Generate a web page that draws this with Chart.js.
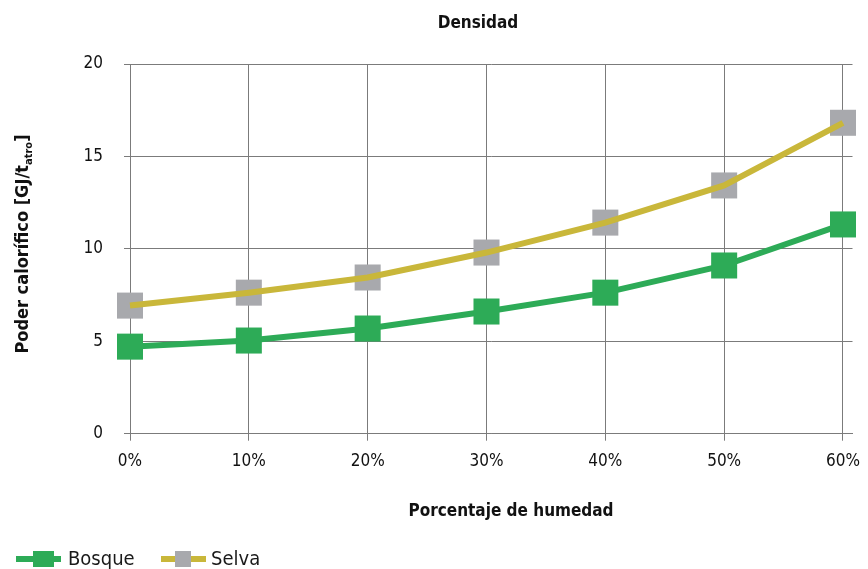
<!DOCTYPE html>
<html>
<head>
<meta charset="utf-8">
<script src="https://cdn.jsdelivr.net/npm/chart.js@4/dist/chart.umd.min.js"></script>
<style>
  html, body { margin: 0; padding: 0; width: 868px; height: 569px; overflow: hidden; background: #fff; }
  #wrap { position: relative; width: 868px; height: 569px; }
  #c { position: absolute; left: 0; top: 0; }
  .lg-text { position: absolute; font-family: 'Liberation Sans Narrow', 'DejaVu Sans Condensed', sans-serif;
             font-size: 20px; line-height: 20px; color: #1a1a1a; white-space: nowrap; }
  .lg-line { position: absolute; height: 6px; }
  .lg-box { position: absolute; }
</style>
</head>
<body>
<div id="wrap">
  <canvas id="c" width="868" height="569"></canvas>
  <div id="legend"></div>
</div>
<script>
// Moisture content categories and calorific values (GJ per dry tonne)
const xLabels = ['0%', '10%', '20%', '30%', '40%', '50%', '60%'];
const bosque  = [4.71, 5.04, 5.69, 6.61, 7.63, 9.10, 11.32];
const selva   = [6.93, 7.63, 8.45, 9.80, 11.42, 13.43, 16.82];
const yTicks  = [0, 5, 10, 15, 20];

const chartTitle = 'Densidad';
const xTitle = 'Porcentaje de humedad';
const yTitleMain = 'Poder calorífico [GJ/t';
const yTitleSub = 'atro';
const yTitleEnd = ']';

const seriesNames = ['Bosque', 'Selva'];
const GREEN = '#2dab57';
const OLIVE = '#c9b73a';
const GREY  = '#a8a9ad';
const GRID  = '#7b7b7b';
const FONT  = "'Liberation Sans Narrow', 'DejaVu Sans Condensed', sans-serif";

const toPoints = arr => arr.map((v, i) => ({ x: i, y: v }));

// Titles drawn on the canvas at fixed positions (axis title carries a subscript)
const titlesPlugin = {
  id: 'titles',
  afterDraw(chart) {
    const ctx = chart.ctx;
    ctx.save();
    ctx.fillStyle = '#111';
    ctx.textAlign = 'center';
    ctx.textBaseline = 'middle';
    ctx.font = 'bold 17px ' + FONT;
    ctx.fillText(chartTitle, 478, 24);
    ctx.fillText(xTitle, 511, 512);

    // rotated y-axis title with subscript
    ctx.translate(23, 244);
    ctx.rotate(-Math.PI / 2);
    const mainFont = 'bold 18px ' + FONT;
    const subFont = 'bold 11px ' + FONT;
    ctx.font = mainFont; const w1 = ctx.measureText(yTitleMain).width;
    ctx.font = subFont;  const w2 = ctx.measureText(yTitleSub).width;
    ctx.font = mainFont; const w3 = ctx.measureText(yTitleEnd).width;
    let x = -(w1 + w2 + w3) / 2;
    ctx.textAlign = 'left';
    ctx.font = mainFont; ctx.fillText(yTitleMain, x, 0); x += w1;
    ctx.font = subFont;  ctx.fillText(yTitleSub, x, 6); x += w2;
    ctx.font = mainFont; ctx.fillText(yTitleEnd, x, 0);
    ctx.restore();
  }
};

new Chart(document.getElementById('c'), {
  type: 'line',
  data: {
    datasets: [
      {
        label: seriesNames[0],
        data: toPoints(bosque),
        borderColor: GREEN, backgroundColor: GREEN, borderWidth: 6,
        pointStyle: 'rect', pointRadius: 18.4, pointBorderWidth: 0,
        pointBackgroundColor: GREEN, tension: 0, clip: false, order: 0
      },
      {
        // Selva line sits above its grey markers
        label: seriesNames[1],
        data: toPoints(selva),
        borderColor: OLIVE, borderWidth: 6, pointRadius: 0,
        tension: 0, clip: false, order: 1
      },
      {
        label: seriesNames[1] + ' marcadores',
        data: toPoints(selva),
        showLine: false,
        pointStyle: 'rect', pointRadius: 18.4, pointBorderWidth: 0,
        pointBackgroundColor: GREY, backgroundColor: GREY,
        clip: false, order: 2
      }
    ]
  },
  options: {
    responsive: false,
    animation: false,
    events: [],
    layout: { autoPadding: false, padding: { top: 64, right: 15.5, left: 0, bottom: 0 } },
    plugins: { legend: { display: false }, title: { display: false }, tooltip: { enabled: false } },
    scales: {
      x: {
        type: 'linear', min: 0, max: 6.08,
        afterFit(s) { s.height = 569 - 433.7; s.paddingLeft = 0; s.paddingRight = 0; },
        ticks: {
          stepSize: 1, includeBounds: false, autoSkip: false, maxRotation: 0,
          padding: 11, color: '#111', font: { family: FONT, size: 17 },
          callback: v => xLabels[v]
        },
        grid: { color: GRID, lineWidth: 1, tickLength: 7 },
        border: { color: GRID }
      },
      y: {
        min: 0, max: 20,
        afterFit(s) { s.width = 130; s.paddingTop = 0; s.paddingBottom = 0; },
        afterBuildTicks(s) { s.ticks = yTicks.map(v => ({ value: v })); },
        ticks: { padding: 21, color: '#111', font: { family: FONT, size: 17 } },
        grid: { color: GRID, lineWidth: 1, tickLength: 6 },
        border: { color: GRID }
      }
    }
  },
  plugins: [titlesPlugin]
});

// Legend: line-through-marker keys
const legendItems = [
  { name: seriesNames[0], line: GREEN, box: GREEN, x: 16, boxLeft: 33, boxW: 21, textLeft: 68 },
  { name: seriesNames[1], line: OLIVE, box: GREY, x: 161, boxLeft: 175, boxW: 16, textLeft: 211 }
];
const legend = document.getElementById('legend');
legendItems.forEach(it => {
  const line = document.createElement('div');
  line.className = 'lg-line';
  line.style.cssText = `left:${it.x}px;top:556px;width:45px;background:${it.line};`;
  const box = document.createElement('div');
  box.className = 'lg-box';
  box.style.cssText = `left:${it.boxLeft}px;top:551px;width:${it.boxW}px;height:16px;background:${it.box};`;
  const txt = document.createElement('div');
  txt.className = 'lg-text';
  txt.style.cssText = `left:${it.textLeft}px;top:548px;`;
  txt.textContent = it.name;
  legend.append(line, box, txt);
});
</script>
</body>
</html>
